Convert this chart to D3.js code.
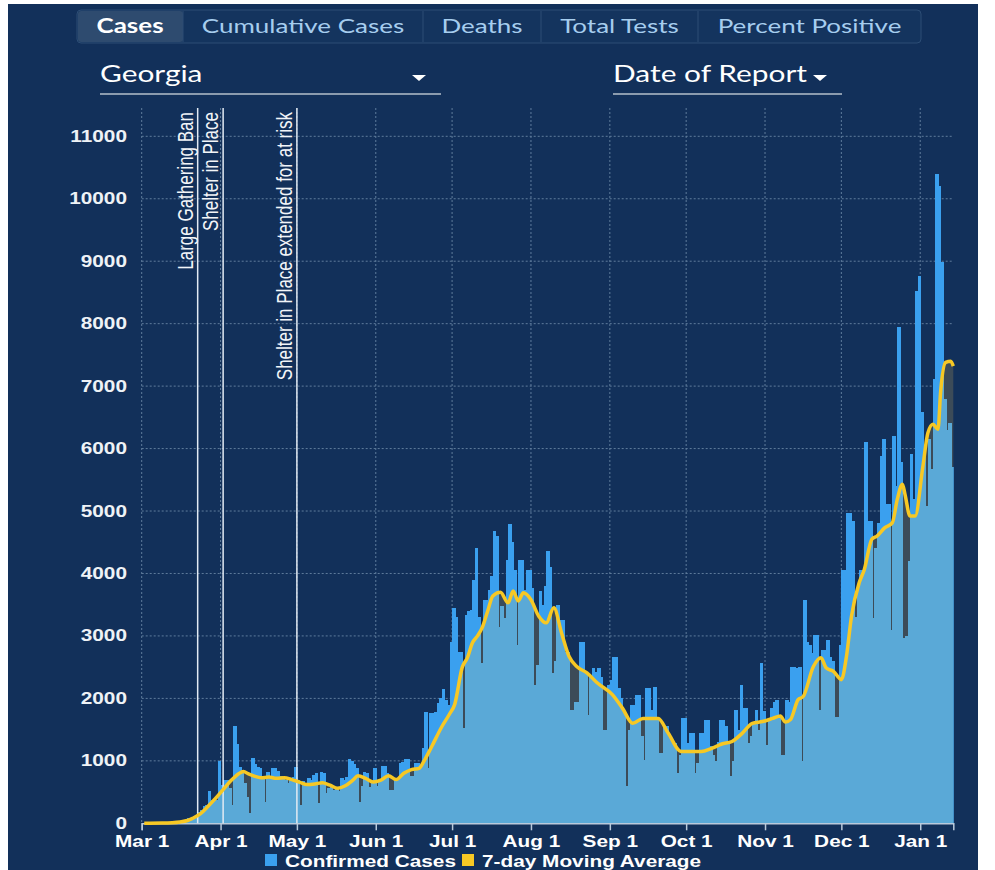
<!DOCTYPE html>
<html>
<head>
<meta charset="utf-8">
<script src="https://cdn.jsdelivr.net/npm/d3@7"></script>
<style>
  body { margin: 0; background: #ffffff; }
  svg { display: block; }
</style>
</head>
<body>
<div class="chart"></div>
<script>
// daily confirmed cases, Georgia, by date of report
let casesMar = [0,0,2,0,0,0,2,3,5,5,10,11,15,17,33,30,45,55,90,92,120,130,185,210,270,290,510,380,350,370,1000];
let casesApr = [610,700,690,560,290,1550,1270,900,850,650,420,160,1050,950,900,880,760,340,820,740,880,880,840,760,720,700,640,720,740,900];
let casesMay = [700,290,680,650,720,700,780,800,320,820,800,480,560,580,540,580,520,720,700,740,1030,1000,950,880,340,600,820,800,580,640,880];
let casesJun = [590,700,920,920,800,540,530,720,720,970,980,1030,1030,750,760,970,970,910,1200,1790,880,1760,1760,1775,1925,2000,2150,1980,1900,2910];
let casesJul = [3450,3300,2750,2750,1520,3340,3400,3420,3900,4410,3300,2570,3580,3580,3740,3960,4680,4600,3150,3480,3290,4220,4790,4500,4060,2850,4220,4220,3740,4060,4060];
let casesAug = [3770,2220,2540,3720,3500,3800,4360,4100,2410,2600,3500,3260,3260,2750,2750,1820,1820,1950,1950,2910,2910,2410,1740,2350,2490,2430,2490,2350,1500,1500,2220];
let casesSep = [2300,2660,2660,2170,2000,1790,590,1500,1900,1900,2060,2060,1390,1020,2170,2170,1820,2190,1700,1120,1120,1550,1550,1400,1280,1280,800,1100,1680,1680];
let casesOct = [1280,1440,1440,800,960,1440,1440,1650,1650,1230,1100,990,1300,1650,1650,1550,1280,760,1000,1820,1500,2220,1840,1840,1280,1400,1600,1820,1500,2570,1800];
let casesNov = [1260,1660,1840,1950,1980,1710,1100,1100,1980,1950,2510,2510,2490,2510,990,3580,2900,2860,2730,3020,3020,1820,2780,2780,2940,2670,2600,1710,1710,2860];
let casesDec = [4060,4060,4970,4970,4840,3300,3800,4060,4060,6100,4840,4840,3290,4410,4810,5880,6150,5110,5110,3100,6200,5400,7940,5780,2970,3000,4200,5910,5200,8520,8760];
let casesJan = [6580,6000,5080,6150,5670,7110,10390,10200,8980,6800,6300,6410,5700];

// 7-day moving average
let maDates = ["2020-03-01","2020-03-08","2020-03-12","2020-03-15","2020-03-18","2020-03-20","2020-03-23","2020-03-26","2020-03-29",
  "2020-04-01","2020-04-04","2020-04-07","2020-04-09","2020-04-11","2020-04-13","2020-04-16","2020-04-19","2020-04-22","2020-04-25","2020-04-28",
  "2020-05-01","2020-05-04","2020-05-07","2020-05-10","2020-05-13","2020-05-16","2020-05-19","2020-05-22","2020-05-24","2020-05-27","2020-05-30",
  "2020-06-02","2020-06-05","2020-06-08","2020-06-11","2020-06-14","2020-06-17","2020-06-19","2020-06-22","2020-06-26","2020-06-29",
  "2020-07-01","2020-07-04","2020-07-06","2020-07-08","2020-07-10","2020-07-12","2020-07-14","2020-07-16","2020-07-19","2020-07-22","2020-07-24","2020-07-26","2020-07-28","2020-07-31",
  "2020-08-03","2020-08-06","2020-08-09","2020-08-12","2020-08-15","2020-08-18","2020-08-22","2020-08-26",
  "2020-09-01","2020-09-05","2020-09-09","2020-09-13","2020-09-19","2020-09-23","2020-09-28",
  "2020-10-02","2020-10-06","2020-10-10","2020-10-14","2020-10-18","2020-10-22","2020-10-26","2020-10-30",
  "2020-11-03","2020-11-06","2020-11-08","2020-11-10","2020-11-13","2020-11-15","2020-11-19","2020-11-22","2020-11-24","2020-11-27","2020-11-30",
  "2020-12-02","2020-12-04","2020-12-07","2020-12-09","2020-12-12","2020-12-14","2020-12-17","2020-12-20","2020-12-22","2020-12-24","2020-12-25","2020-12-27","2020-12-29",
  "2021-01-01","2021-01-03","2021-01-05","2021-01-07","2021-01-08","2021-01-10","2021-01-12","2021-01-13"];
let maValues = [0,3,10,22,45,80,150,270,400,
  540,680,790,830,790,760,730,740,720,730,700,
  660,620,630,650,610,560,600,690,760,720,660,
  690,760,700,800,860,880,1000,1230,1550,1750,
  1900,2500,2650,2890,3000,3150,3400,3640,3700,3530,3720,3560,3690,3580,
  3320,3210,3450,3050,2670,2510,2410,2250,
  2060,1840,1600,1680,1680,1440,1150,
  1150,1150,1200,1270,1310,1440,1600,1630,
  1680,1720,1620,1660,1980,2030,2510,2650,2490,2430,2300,
  2670,3320,3850,4060,4550,4600,4730,4810,5190,5430,5270,4920,4920,
  5700,6250,6390,6310,6900,7380,7400,7320];

let tabNames = ["Cases", "Cumulative Cases", "Deaths", "Total Tests", "Percent Positive"];
let yTicks = [0,1000,2000,3000,4000,5000,6000,7000,8000,9000,10000,11000];
let eventDates = ["2020-03-23", "2020-04-02", "2020-05-01"];
let eventNames = ["Large Gathering Ban", "Shelter in Place", "Shelter in Place extended for at risk"];

let svgWidth = 995;
let svgHeight = 870;
let SX = 1.3; // the screenshot is stretched sideways, so is all the text

let svg = d3.select(".chart")
  .append("svg")
  .attr("width", svgWidth)
  .attr("height", svgHeight);

svg.append("rect")
  .attr("x", 8).attr("y", 4)
  .attr("width", 970).attr("height", 866)
  .attr("fill", "#12305a");

function stretchText(x, y, str) {
  return svg.append("text")
    .attr("transform", `translate(${x},${y}) scale(${SX},1)`)
    .text(str);
}

// ---- tabs
let tabEdges = [77, 183, 423, 541, 698, 921];
svg.append("rect")
  .attr("x", 77).attr("y", 10).attr("width", 844).attr("height", 33).attr("rx", 4)
  .attr("fill", "#14345e").attr("stroke", "#2c4d75");
svg.append("rect")
  .attr("x", 78).attr("y", 11).attr("width", 105).attr("height", 31).attr("rx", 3)
  .attr("fill", "#2e4b6f");
tabNames.forEach((name, i) => {
  if (i > 0) {
    svg.append("line")
      .attr("x1", tabEdges[i]).attr("x2", tabEdges[i])
      .attr("y1", 11).attr("y2", 42)
      .attr("stroke", "#2c4d75");
  }
  stretchText((tabEdges[i] + tabEdges[i + 1]) / 2, 33, name)
    .attr("text-anchor", "middle")
    .attr("font-family", "Lato, sans-serif")
    .attr("font-size", 20)
    .attr("font-weight", i === 0 ? "bold" : "normal")
    .attr("fill", i === 0 ? "#ffffff" : "#a6cdee");
});

// ---- dropdowns
function dropdown(x, text, caretX, lineEnd) {
  stretchText(x, 82, text)
    .attr("font-family", "Lato, sans-serif")
    .attr("font-size", 23)
    .attr("fill", "#ffffff");
  svg.append("path")
    .attr("d", `M${caretX},75 L${caretX + 14},75 L${caretX + 7},81 Z`)
    .attr("fill", "#ffffff");
  svg.append("line")
    .attr("x1", x).attr("x2", lineEnd)
    .attr("y1", 94).attr("y2", 94)
    .attr("stroke", "#b4bfcb").attr("stroke-width", 1.5);
}
dropdown(100, "Georgia", 412, 441);
dropdown(613, "Date of Report", 813, 842);

// ---- scales
let parseDay = d3.utcParse("%Y-%m-%d");
let startDate = parseDay("2020-03-01");
let endDate = parseDay("2021-01-14");
let dailyCases = [].concat(casesMar, casesApr, casesMay, casesJun, casesJul, casesAug,
  casesSep, casesOct, casesNov, casesDec, casesJan);
let days = dailyCases.map((v, i) => ({ date: d3.utcDay.offset(startDate, i), value: v }));
let maData = maDates.map((d, i) => ({ date: parseDay(d), value: maValues[i] }));

let xScale = d3.scaleUtc()
  .domain([startDate, endDate])
  .range([141.7, 953.3]);
let yScale = d3.scaleLinear()
  .domain([0, 11000])
  .range([823.3, 136.3]);
let plotTop = 108;
let baseY = yScale(0);
let dayW = xScale(d3.utcDay.offset(startDate, 1)) - xScale(startDate);

let chartGroup = svg.append("g");

// ---- grid
let months = d3.utcMonth.range(startDate, endDate);
chartGroup.selectAll(".vgrid")
  .data(months)
  .enter()
  .append("line")
  .attr("x1", d => xScale(d)).attr("x2", d => xScale(d))
  .attr("y1", plotTop).attr("y2", baseY)
  .attr("stroke", "#5f7c9c").attr("stroke-dasharray", "2,2").attr("stroke-width", 1);
chartGroup.selectAll(".hgrid")
  .data(yTicks.filter(v => v > 0))
  .enter()
  .append("line")
  .attr("x1", xScale(startDate)).attr("x2", xScale(endDate))
  .attr("y1", d => yScale(d)).attr("y2", d => yScale(d))
  .attr("stroke", "#5f7c9c").attr("stroke-dasharray", "2,2").attr("stroke-width", 1);

// ---- bars, then the grey area under the average, then the bars again clipped to that area
function drawBars(g, fill) {
  g.attr("shape-rendering", "crispEdges")
    .selectAll("rect")
    .data(days)
    .enter()
    .append("rect")
    .attr("x", d => xScale(d.date))
    .attr("width", dayW + 0.9)
    .attr("y", d => yScale(d.value))
    .attr("height", d => baseY - yScale(d.value))
    .attr("fill", fill);
}
drawBars(chartGroup.append("g"), "#3aa0ef");

let maX = d => xScale(d.date) + dayW;
let maArea = d3.area()
  .x(maX)
  .y0(baseY)
  .y1(d => yScale(d.value))
  .curve(d3.curveMonotoneX);
let maLine = d3.line()
  .x(maX)
  .y(d => yScale(d.value))
  .curve(d3.curveMonotoneX);

chartGroup.append("path")
  .datum(maData)
  .attr("d", maArea)
  .attr("fill", "#3c4b58");

svg.append("clipPath")
  .attr("id", "maClip")
  .append("path")
  .datum(maData)
  .attr("d", maArea);
drawBars(chartGroup.append("g").attr("clip-path", "url(#maClip)"), "#5aa9d7");

// ---- x axis
let xAxis = d3.axisBottom(xScale)
  .tickValues(months)
  .tickFormat(d3.utcFormat("%b %-d"))
  .tickSize(7)
  .tickSizeOuter(7);
let xAxisG = chartGroup.append("g")
  .attr("transform", `translate(0, ${baseY})`)
  .call(xAxis);
xAxisG.select(".domain").attr("stroke", "#b9cadc").attr("stroke-width", 1.5);
xAxisG.selectAll(".tick line").attr("stroke", "#b9cadc").attr("stroke-width", 1.5);
xAxisG.selectAll(".tick text")
  .attr("y", 24).attr("dy", null)
  .attr("transform", `scale(${SX},1)`)
  .attr("fill", "#ffffff")
  .attr("font-family", "Arial, 'Liberation Sans', sans-serif")
  .attr("font-size", 16)
  .attr("font-weight", "bold");

// ---- y labels
yTicks.forEach(v => {
  stretchText(127, yScale(v) + 5.5, v)
    .attr("text-anchor", "end")
    .attr("fill", "#eef2f6")
    .attr("font-family", "Arial, 'Liberation Sans', sans-serif")
    .attr("font-size", 16)
    .attr("font-weight", "bold");
});

// ---- events
eventDates.forEach((d, i) => {
  let ex = xScale(parseDay(d));
  chartGroup.append("line")
    .attr("x1", ex).attr("x2", ex)
    .attr("y1", plotTop).attr("y2", baseY)
    .attr("stroke", "#e2eaf3").attr("stroke-width", 1.5);
  svg.append("text")
    .attr("transform", `translate(${ex - 5},112) scale(${SX},1) rotate(-90)`)
    .attr("text-anchor", "end")
    .attr("fill", "#f2f5f8")
    .attr("font-family", "Arial, 'Liberation Sans', sans-serif")
    .attr("font-size", 17)
    .text(eventNames[i]);
});

// ---- moving average line
chartGroup.append("path")
  .datum(maData)
  .attr("d", maLine)
  .attr("fill", "none")
  .attr("stroke", "#f7c824")
  .attr("stroke-width", 3.5)
  .attr("stroke-linejoin", "round");

// ---- legend
let legendItems = [
  { name: "Confirmed Cases", color: "#3aa0ef", x: 265 },
  { name: "7-day Moving Average", color: "#f7c824", x: 462 }
];
legendItems.forEach(item => {
  svg.append("rect")
    .attr("x", item.x).attr("y", 854)
    .attr("width", 12).attr("height", 12)
    .attr("fill", item.color);
  stretchText(item.x + 20, 867, item.name)
    .attr("fill", "#ffffff")
    .attr("font-family", "Arial, 'Liberation Sans', sans-serif")
    .attr("font-size", 16)
    .attr("font-weight", "bold");
});
</script>
</body>
</html>
